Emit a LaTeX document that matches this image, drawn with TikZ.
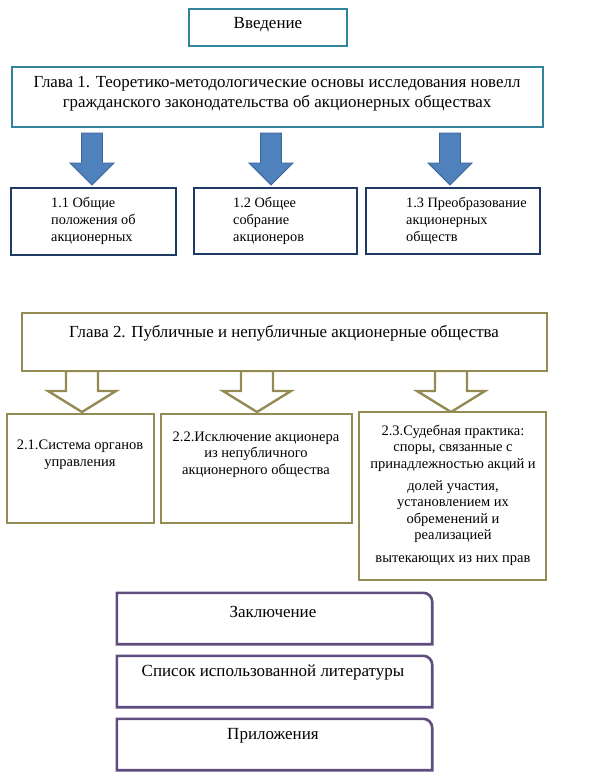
\documentclass[tikz,border=0pt]{standalone}
\usepackage{fontspec}
\setmainfont{Liberation Serif}
\usetikzlibrary{calc}
\definecolor{cTeal}{HTML}{31849B}
\definecolor{cNavy}{HTML}{1F3A64}
\definecolor{cBlue}{HTML}{4F81BD}
\definecolor{cBlueEdge}{HTML}{3A649A}
\definecolor{cOlive}{HTML}{948A54}
\definecolor{cPurple}{HTML}{5F4D7F}
\newcommand\fsz[2]{\fontsize{#1}{#2}\selectfont}
\begin{document}
\begin{tikzpicture}[x=1pt,y=-1pt,
  bx/.style={draw, line width=2.6pt, inner sep=0pt, fill=white},
  tealbox/.style={bx, draw=cTeal},
  navybox/.style={bx, draw=cNavy},
  olivebox/.style={bx, draw=cOlive},
  purpbox/.style={inner sep=0pt},
  purpline/.style={draw=cPurple, line width=2.6pt, line join=miter},
  txt/.style={inner sep=0pt, text=black},
  barrow/.style={fill=cBlue, draw=cBlueEdge, line width=0.8pt, line join=miter},
  harrow/.style={fill=white, draw=cOlive, line width=2.4pt, line join=miter}
]
\useasboundingbox (0,0) rectangle (593,782);

% Introduction
\node[tealbox, minimum width=158pt, minimum height=37pt] (vved) at (268,27.5) {};
\node[txt, font=\fsz{17}{20}] (vvedT) at (268,25) {Введение};

% Chapter 1
\coordinate (ba1) at (92,133);
\coordinate (ba2) at (271,133);
\coordinate (ba3) at (450,133);
\foreach \c in {ba1,ba2,ba3}{
  \draw[barrow] (\c) ++(-10.5,0) -- ++(21,0) -- ++(0,30) -- ++(11.5,0) -- ++(-22,22) -- ++(-22,-22) -- ++(11.5,0) -- cycle;
}
\node[tealbox, minimum width=531pt, minimum height=60pt] (gl1) at (277.5,97) {};
\node[txt, align=center, font=\fsz{16.9}{20}] (gl1T) at (277,93.5)
  {Глава 1. Теоретико-методологические основы исследования новелл\\
   гражданского законодательства об акционерных обществах};

\node[navybox, minimum width=165pt, minimum height=67pt] (b11) at (93.5,221.5) {};
\node[navybox, minimum width=163pt, minimum height=66pt] (b12) at (275.5,221) {};
\node[navybox, minimum width=174pt, minimum height=66pt] (b13) at (453,221) {};
\node[txt, anchor=west, align=left, font=\fsz{14.3}{17}] (b11T) at (51,221)
  {1.1 Общие\\положения об\\акционерных};
\node[txt, anchor=west, align=left, font=\fsz{14.3}{17}] (b12T) at (233,221)
  {1.2 Общее\\собрание\\акционеров};
\node[txt, anchor=west, align=left, font=\fsz{14.3}{17}] (b13T) at (406,221)
  {1.3 Преобразование\\акционерных\\обществ};

% Chapter 2
\coordinate (ha1) at (82,371);
\coordinate (ha2) at (257,371);
\coordinate (ha3) at (451,371);
\foreach \c in {ha1,ha2,ha3}{
  \draw[harrow] (\c) ++(-16,0) -- ++(32,0) -- ++(0,20) -- ++(18,0) -- ++(-34,21) -- ++(-34,-21) -- ++(18,0) -- cycle;
}
\node[olivebox, minimum width=525pt, minimum height=58pt] (gl2) at (284.5,342) {};
\node[txt, font=\fsz{16.9}{20}] (gl2T) at (284,333.5)
  {Глава 2. Публичные и непубличные акционерные общества};

\node[olivebox, minimum width=147pt, minimum height=109pt] (b21) at (80.5,468.5) {};
\node[olivebox, minimum width=191pt, minimum height=109pt] (b22) at (256.5,468.5) {};
\node[olivebox, minimum width=187pt, minimum height=168pt] (b23) at (452.5,496) {};
\node[txt, align=center, font=\fsz{14.5}{16.5}] (b21T) at (80,455)
  {2.1.Система органов\\управления};
\node[txt, align=center, font=\fsz{14.5}{16.5}] (b22T) at (256,454.5)
  {2.2.Исключение акционера\\из непубличного\\акционерного общества};
\node[txt, align=center, font=\fsz{14.5}{16.5}] (b23T) at (453,495.5)
  {2.3.Судебная практика:\\споры, связанные с\\принадлежностью акций и\\[5.5pt]
   долей участия,\\установлением их\\обременений и\\реализацией\\[6.5pt]
   вытекающих из них прав};

% Conclusion etc.
\foreach \n/\yc in {zak/618.5, spis/681.5, pril/744.5}{
  \node[purpbox, minimum width=315pt, minimum height=51pt] (\n) at (274.5,\yc) {};
  \draw[purpline] (\n.south west) -- (\n.north west) -- ($(\n.north east)+(-9,0)$)
    .. controls ($(\n.north east)+(-4,0)$) and ($(\n.north east)+(0,4)$) .. ($(\n.north east)+(0,9)$)
    -- (\n.south east) -- cycle;
}
\node[txt, font=\fsz{17}{20}] (zakT) at (273,611.5) {Заключение};
\node[txt, font=\fsz{17}{20}] (spisT) at (273,672.5) {Список использованной литературы};
\node[txt, font=\fsz{17}{20}] (prilT) at (273,735.5) {Приложения};
\end{tikzpicture}
\end{document}
